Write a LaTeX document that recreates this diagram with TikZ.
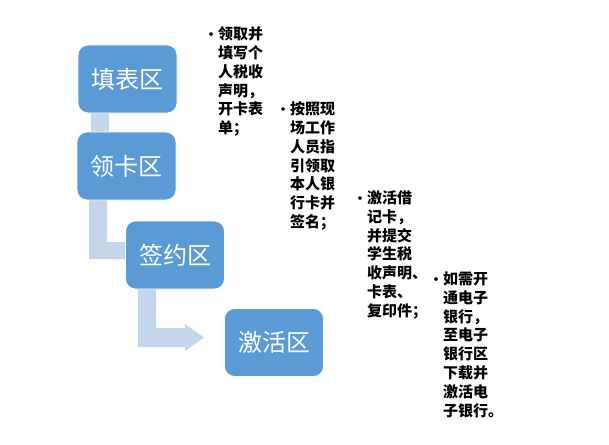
\documentclass[tikz,border=0pt]{standalone}
\usepackage{fontspec}
\newfontfamily\cjk{Noto Sans CJK SC}
\definecolor{boxblue}{RGB}{91,155,213}
\definecolor{arrowblue}{RGB}{197,213,235}
\newcommand{\bulletmark}{\llap{{\fontsize{13}{15}\selectfont•}\hspace{0.5pt}}}
\begin{document}
\begin{tikzpicture}[x=1pt,y=-1pt,
  stage/.style={rounded corners=10pt, fill=boxblue, draw=white, line width=0.8pt,
    minimum width=99pt, minimum height=68pt, text=white, inner sep=0pt,
    font=\cjk\fontsize{24}{28}\selectfont},
  conn/.style={fill=arrowblue, draw=none},
  note/.style={anchor=north west, inner sep=0pt, align=left, text=black,
    font=\cjk\bfseries\fontsize{15}{18.8}\selectfont}]
\useasboundingbox (0,0) rectangle (609,444);
% connectors (behind boxes)
\coordinate (c1a) at (91,100);
\coordinate (c1b) at (109,140);
\fill[conn] (c1a) rectangle (c1b);
\fill[conn] (89,190) -- (107,190) -- (107,242) -- (140,242) -- (140,259) -- (89,259) -- cycle;
\fill[conn] (138,280) -- (156,280) -- (156,328) -- (185,328) -- (185,324) -- (204,337.5)
  -- (185,351) -- (185,347) -- (138,347) -- cycle;
% boxes
\node[stage] (s1) at (127.5,79) {填表区};
\node[stage] (s2) at (126.5,166) {领卡区};
\node[stage] (s3) at (175,255) {签约区};
\node[stage] (s4) at (274,342.5) {激活区};
% notes
\node[note] (n1) at (218,26.5) {\bulletmark 领取并\\填写个\\人税收\\声明，\\开卡表\\单；};
\node[note] (n2) at (290,101.5) {\bulletmark 按照现\\场工作\\人员指\\引领取\\本人银\\行卡并\\签名；};
\node[note] (n3) at (367,190.5) {\bulletmark 激活借\\记卡，\\并提交\\学生税\\收声明、\\卡表、\\复印件；};
\node[note] (n4) at (443,271.5) {\bulletmark 如需开\\通电子\\银行，\\至电子\\银行区\\下载并\\激活电\\子银行。};
\end{tikzpicture}
\end{document}
